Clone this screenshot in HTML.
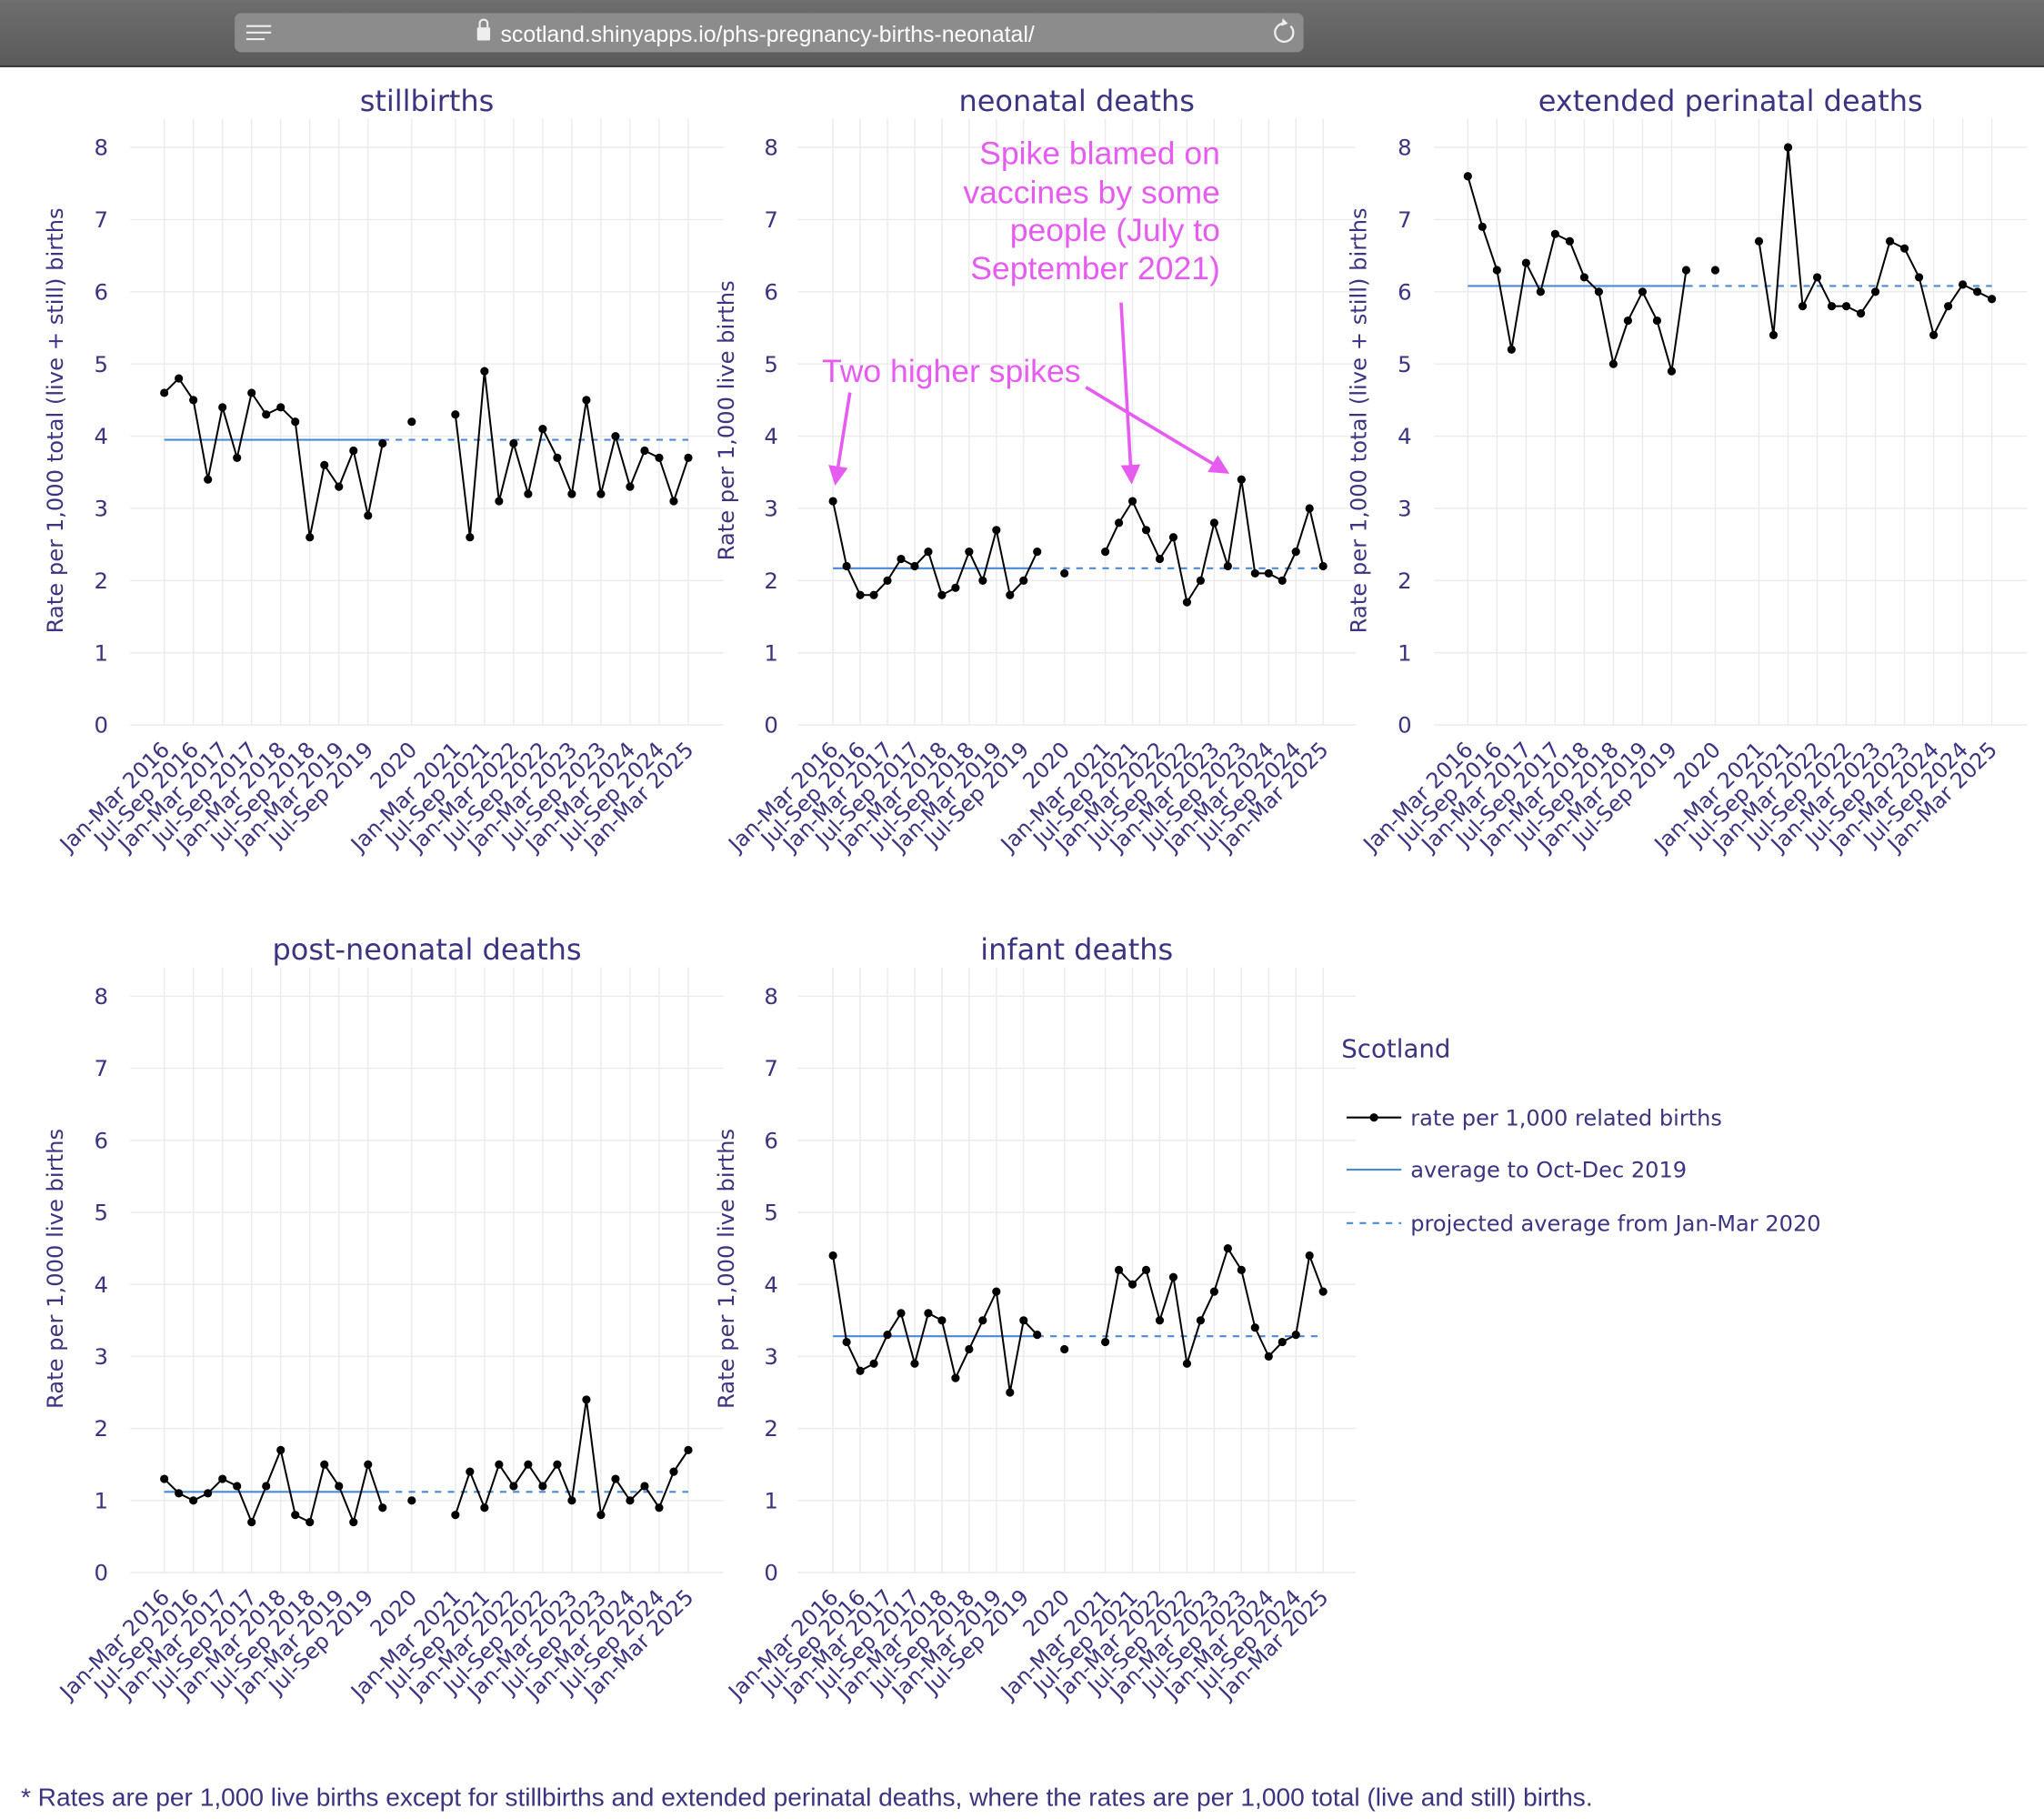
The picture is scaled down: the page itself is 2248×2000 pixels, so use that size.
<!DOCTYPE html>
<html><head><meta charset="utf-8"><style>
html,body{margin:0;padding:0;background:#fff;}
svg{display:block;}
</style></head><body>
<svg id="s" xmlns="http://www.w3.org/2000/svg" width="2248" height="2000" viewBox="0 0 1568 1395">
<defs>
<linearGradient id="bar" x1="0" y1="0" x2="0" y2="1"><stop offset="0" stop-color="#6e6e6e"/><stop offset="1" stop-color="#5a5a5a"/></linearGradient>
<marker id="ah" markerWidth="6" markerHeight="6" refX="5" refY="3" orient="auto" markerUnits="strokeWidth"><path d="M0,0 L6,3 L0,6 z" fill="#e65cf0"/></marker>
</defs>
<rect x="0" y="0" width="1568" height="51" fill="url(#bar)"/>
<line x1="0" y1="51" x2="1568" y2="51" stroke="#222" stroke-width="1"/>
<rect x="180" y="10" width="820" height="30" rx="5" fill="#8c8c8c"/>
<g stroke="#eee" stroke-width="1.5"><line x1="189" y1="20" x2="208" y2="20"/><line x1="189" y1="25" x2="208" y2="25"/><line x1="189" y1="30" x2="203" y2="30"/></g>
<rect x="366" y="21" width="10" height="10" rx="1" fill="#eee"/><path d="M368,21 v-3 a3,3 0 0 1 6,0 v3" stroke="#eee" stroke-width="1.5" fill="none"/>
<text x="384" y="32" font-family="Liberation Sans, sans-serif" font-size="17.3" fill="#fff">scotland.shinyapps.io/phs-pregnancy-births-neonatal/</text>
<path d="M990,20 a7,7 0 1 1 -5,-2" stroke="#eee" stroke-width="1.6" fill="none"/><path d="M984,14 l4,4 l-5,2z" fill="#eee"/>
<g id="plots"></g>
<g font-family="DejaVu Sans, sans-serif" fill="#3b3480">
<text x="1029" y="811" font-size="19.3">Scotland</text>
<line x1="1033" y1="857" x2="1075" y2="857" stroke="#000" stroke-width="1.5"/><circle cx="1054" cy="857" r="3.2" fill="#000"/>
<text x="1082" y="863" font-size="16.8">rate per 1,000 related births</text>
<line x1="1033" y1="897" x2="1075" y2="897" stroke="#4a8ad8" stroke-width="1.5"/>
<text x="1082" y="903" font-size="16.8">average to Oct-Dec 2019</text>
<line x1="1033" y1="938" x2="1075" y2="938" stroke="#4a8ad8" stroke-width="1.5" stroke-dasharray="5,5"/>
<text x="1082" y="944" font-size="16.8">projected average from Jan-Mar 2020</text>
</g>
<g font-family="Liberation Sans, Arial, sans-serif" font-size="24.8" fill="#e65cf0" text-anchor="end">
<text x="936" y="126">Spike blamed on</text>
<text x="936" y="156">vaccines by some</text>
<text x="936" y="185">people (July to</text>
<text x="936" y="214">September 2021)</text>
<text x="829" y="293">Two higher spikes</text>
</g>
<g stroke="#e65cf0" stroke-width="2.5" fill="none" marker-end="url(#ah)">
<line x1="652" y1="301" x2="641" y2="370"/>
<line x1="860" y1="232" x2="868" y2="369"/>
<line x1="833" y1="297" x2="941" y2="362"/>
</g>
<text x="16" y="1385" font-family="Liberation Sans, Arial, sans-serif" font-size="19.6" fill="#3b3480">* Rates are per 1,000 live births except for stillbirths and extended perinatal deaths, where the rates are per 1,000 total (live and still) births.</text>
</svg>
<script>
var NS="http://www.w3.org/2000/svg";
function el(t,a,p,txt){var e=document.createElementNS(NS,t);for(var k in a)e.setAttribute(k,a[k]);if(txt!==undefined)e.textContent=txt;p.appendChild(e);return e;}
var g=document.getElementById('plots');
var lab={};
var ys=['2016','2017','2018','2019'];var k=0;
for(var i=0;i<4;i++){lab[k]='Jan-Mar '+ys[i];lab[k+2]='Jul-Sep '+ys[i];k+=4;}
lab[17]='2020';k=20;
['2021','2022','2023','2024'].forEach(function(y){lab[k]='Jan-Mar '+y;lab[k+2]='Jul-Sep '+y;k+=4;});
lab[36]='Jan-Mar 2025';
function arr(first,second){var o=[];first.forEach(function(v,i){o.push([i,v]);});o.push([17,first.extra]);second.forEach(function(v,i){o.push([20+i,v]);});return o;}
function mk(a,b,c){a.extra=b;return arr(a,c);}
var P=[
{t:'stillbirths',x0:126,x1:528,gl:100,gr:555,yt:83,at:42,y8:113,y0:556,atext:'Rate per 1,000 total (live + still) births',avg:3.95,
 d:mk([4.6,4.8,4.5,3.4,4.4,3.7,4.6,4.3,4.4,4.2,2.6,3.6,3.3,3.8,2.9,3.9],4.2,[4.3,2.6,4.9,3.1,3.9,3.2,4.1,3.7,3.2,4.5,3.2,4.0,3.3,3.8,3.7,3.1,3.7])},
{t:'neonatal deaths',x0:639,x1:1015,gl:612,gr:1040,yt:597,at:557,y8:113,y0:556,atext:'Rate per 1,000 live births',avg:2.17,
 d:mk([3.1,2.2,1.8,1.8,2.0,2.3,2.2,2.4,1.8,1.9,2.4,2.0,2.7,1.8,2.0,2.4],2.1,[2.4,2.8,3.1,2.7,2.3,2.6,1.7,2.0,2.8,2.2,3.4,2.1,2.1,2.0,2.4,3.0,2.2])},
{t:'extended perinatal deaths',x0:1126,x1:1528,gl:1100,gr:1555,yt:1083,at:1042,y8:113,y0:556,atext:'Rate per 1,000 total (live + still) births',avg:6.08,
 d:mk([7.6,6.9,6.3,5.2,6.4,6.0,6.8,6.7,6.2,6.0,5.0,5.6,6.0,5.6,4.9,6.3],6.3,[6.7,5.4,8.0,5.8,6.2,5.8,5.8,5.7,6.0,6.7,6.6,6.2,5.4,5.8,6.1,6.0,5.9])},
{t:'post-neonatal deaths',x0:126,x1:528,gl:100,gr:555,yt:83,at:42,y8:764,y0:1206,atext:'Rate per 1,000 live births',avg:1.12,
 d:mk([1.3,1.1,1.0,1.1,1.3,1.2,0.7,1.2,1.7,0.8,0.7,1.5,1.2,0.7,1.5,0.9],1.0,[0.8,1.4,0.9,1.5,1.2,1.5,1.2,1.5,1.0,2.4,0.8,1.3,1.0,1.2,0.9,1.4,1.7])},
{t:'infant deaths',x0:639,x1:1015,gl:612,gr:1040,yt:597,at:557,y8:764,y0:1206,atext:'Rate per 1,000 live births',avg:3.28,
 d:mk([4.4,3.2,2.8,2.9,3.3,3.6,2.9,3.6,3.5,2.7,3.1,3.5,3.9,2.5,3.5,3.3],3.1,[3.2,4.2,4.0,4.2,3.5,4.1,2.9,3.5,3.9,4.5,4.2,3.4,3.0,3.2,3.3,4.4,3.9])}
];
P.forEach(function(p){
 var st=(p.x1-p.x0)/36, u=(p.y0-p.y8)/8;
 function X(i){return p.x0+i*st;} function Y(v){return p.y0-v*u;}
 var gg=el('g',{},g);
 for(var v=0;v<=8;v++){el('line',{x1:p.gl,x2:p.gr,y1:Y(v),y2:Y(v),stroke:'#ebebeb','stroke-width':1},gg);
  el('text',{x:p.yt,y:Y(v)+6,'text-anchor':'end','font-family':'DejaVu Sans, sans-serif','font-size':17,fill:'#3b3480'},gg,String(v));}
 for(var i in lab){var x=X(+i);el('line',{x1:x,x2:x,y1:p.y8-22,y2:p.y0,stroke:'#ebebeb','stroke-width':1},gg);
  el('text',{transform:'translate('+(x+5)+','+(p.y0+20)+') rotate(-45)','text-anchor':'end','font-family':'DejaVu Sans, sans-serif','font-size':16.6,fill:'#3b3480'},gg,lab[i]);}
 el('text',{x:(p.gl+p.gr)/2,y:p.y8-28,'text-anchor':'middle','font-family':'DejaVu Sans, sans-serif','font-size':22.3,fill:'#3b3480'},gg,p.t);
 el('text',{transform:'translate('+(p.at+6)+','+((p.y8+p.y0)/2-12)+') rotate(-90)','text-anchor':'middle','font-family':'DejaVu Sans, sans-serif','font-size':16.9,fill:'#3b3480'},gg,p.atext);
 el('line',{x1:X(0),x2:X(15),y1:Y(p.avg),y2:Y(p.avg),stroke:'#4a8ad8','stroke-width':1.5},gg);
 el('line',{x1:X(15),x2:X(36),y1:Y(p.avg),y2:Y(p.avg),stroke:'#4a8ad8','stroke-width':1.5,'stroke-dasharray':'5,5'},gg);
 var segs=[[],[]];
 p.d.forEach(function(q){if(q[0]<=15)segs[0].push(q);else if(q[0]>=20)segs[1].push(q);});
 segs.forEach(function(s){el('polyline',{points:s.map(function(q){return X(q[0])+','+Y(q[1]);}).join(' '),fill:'none',stroke:'#000','stroke-width':1.4},gg);});
 p.d.forEach(function(q){el('circle',{cx:X(q[0]),cy:Y(q[1]),r:3.2,fill:'#000'},gg);});
});
</script>
</body></html>
